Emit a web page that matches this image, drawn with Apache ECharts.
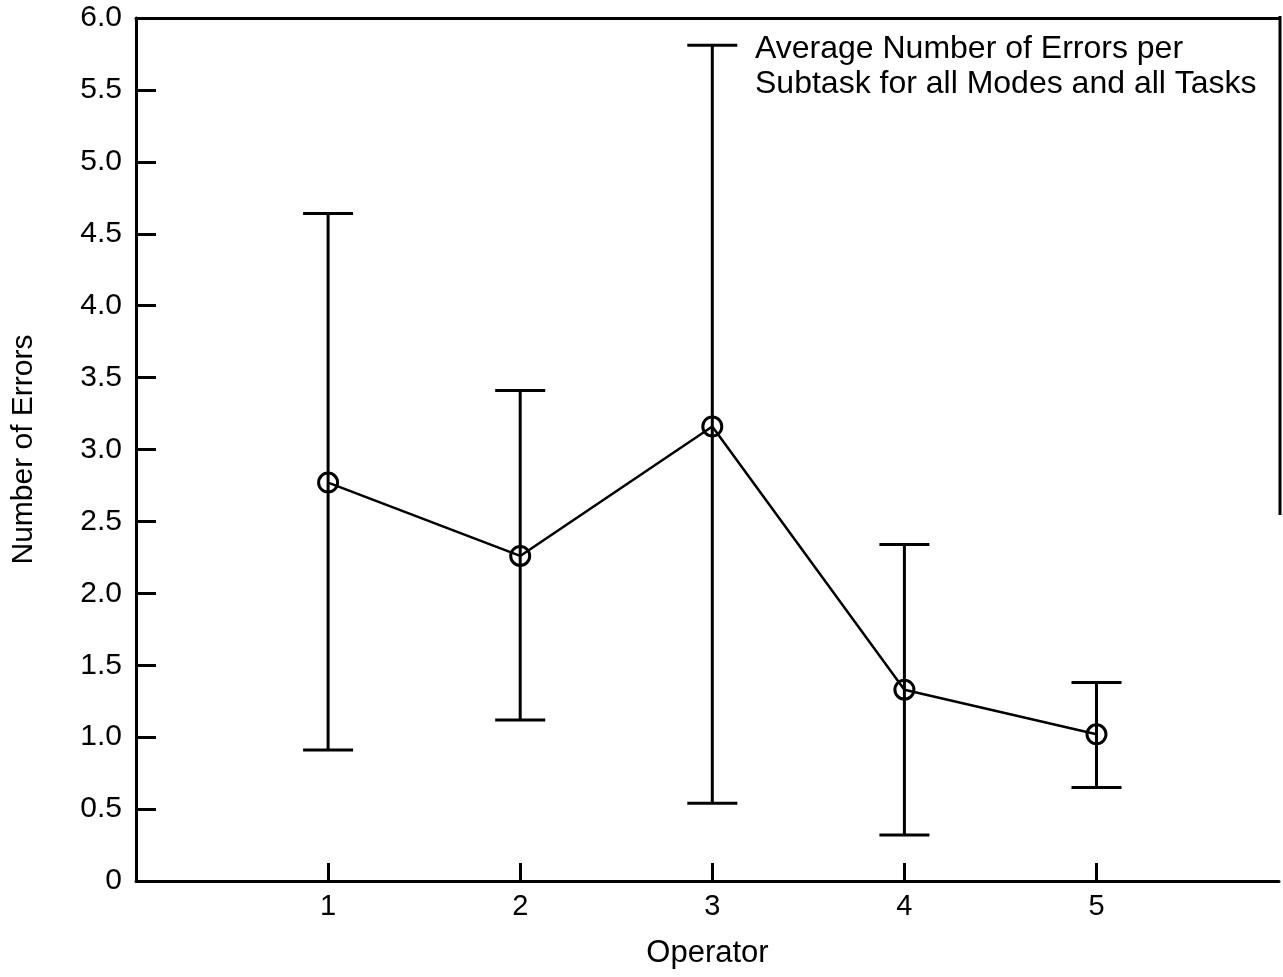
<!DOCTYPE html>
<html>
<head>
<meta charset="utf-8">
<script src="https://cdn.jsdelivr.net/npm/echarts@6/dist/echarts.min.js"></script>
<style>
html,body{margin:0;padding:0;background:#fff;}
#chart{width:1283px;height:977px;}
</style>
</head>
<body>
<div id="chart"></div>
<script>
// Data
const operators = [1, 2, 3, 4, 5];
const meanErrors = [2.77, 2.26, 3.16, 1.33, 1.02];
const upperErrors = [4.64, 3.41, 5.81, 2.34, 1.38];
const lowerErrors = [0.91, 1.12, 0.54, 0.32, 0.65];
const yTicks = [0, 0.5, 1.0, 1.5, 2.0, 2.5, 3.0, 3.5, 4.0, 4.5, 5.0, 5.5, 6.0];
const annotationLines = ['Average Number of Errors per', 'Subtask for all Modes and all Tasks'];
const xTitle = 'Operator';
const yTitle = 'Number of Errors';

const FONT = '"Liberation Sans", Arial, Helvetica, sans-serif';
const chart = echarts.init(document.getElementById('chart'), null, {renderer: 'canvas'});

const meanData = operators.map((o, i) => [o, meanErrors[i]]);
const errData = operators.map((o, i) => [o, lowerErrors[i], upperErrors[i]]);

const option = {
  backgroundColor: '#fff',
  animation: false,
  grid: {left: 136, top: 18, right: 4, bottom: 96, containLabel: false},
  xAxis: [{
    type: 'value', min: 0, max: 5.95, interval: 1,
    position: 'bottom',
    name: xTitle, nameLocation: 'middle', nameGap: 57,
    nameTextStyle: {fontFamily: FONT, fontSize: 31, color: '#000'},
    axisLine: {show: true, lineStyle: {color: '#000', width: 3}},
    axisTick: {show: true, inside: true, length: 18, lineStyle: {color: '#000', width: 3},
      customValues: operators},
    axisLabel: {fontFamily: FONT, fontSize: 29, color: '#000', margin: 11,
      customValues: operators,
      formatter: v => (operators.indexOf(v) >= 0 ? String(v) : '')},
    splitLine: {show: false}
  }, {
    type: 'value', min: 0, max: 5.95, position: 'top',
    axisLine: {show: true, lineStyle: {color: '#000', width: 3}},
    axisTick: {show: false}, axisLabel: {show: false}, splitLine: {show: false}
  }],
  yAxis: {
    type: 'value', min: 0, max: 6, interval: 0.5,
    name: yTitle, nameLocation: 'middle', nameGap: 97, nameRotate: 90,
    nameTextStyle: {fontFamily: FONT, fontSize: 30, color: '#000'},
    axisLine: {show: true, lineStyle: {color: '#000', width: 3}},
    axisTick: {show: true, inside: true, length: 20, lineStyle: {color: '#000', width: 3}},
    axisLabel: {fontFamily: FONT, fontSize: 30, color: '#000', margin: 14,
      formatter: v => (v === 0 ? '0' : v.toFixed(1))},
    splitLine: {show: false}
  },
  graphic: [{
    type: 'text', left: 755, top: 32, z: 100,
    style: {text: annotationLines.join('\n'), font: '32px ' + FONT, fill: '#000', lineHeight: 35}
  }, {
    type: 'line', z: 100,
    shape: {x1: 1280, y1: 16, x2: 1280, y2: 515},
    style: {stroke: '#000', lineWidth: 3}
  }],
  series: [{
    type: 'custom',
    data: errData,
    z: 3,
    renderItem: function (params, api) {
      const x = api.value(0);
      const lo = api.coord([x, api.value(1)]);
      const hi = api.coord([x, api.value(2)]);
      const half = 25;
      const st = {stroke: '#000', lineWidth: 3};
      return {
        type: 'group',
        children: [
          {type: 'line', shape: {x1: lo[0], y1: lo[1], x2: hi[0], y2: hi[1]}, style: st},
          {type: 'line', shape: {x1: hi[0] - half, y1: hi[1], x2: hi[0] + half, y2: hi[1]}, style: st},
          {type: 'line', shape: {x1: lo[0] - half, y1: lo[1], x2: lo[0] + half, y2: lo[1]}, style: st}
        ]
      };
    }
  }, {
    type: 'line',
    data: meanData,
    z: 4,
    symbol: 'circle',
    symbolSize: 19,
    showAllSymbol: true,
    lineStyle: {color: '#000', width: 2.5},
    itemStyle: {color: 'rgba(0,0,0,0)', borderColor: '#000', borderWidth: 3}
  }]
};
chart.setOption(option);
</script>
</body>
</html>
